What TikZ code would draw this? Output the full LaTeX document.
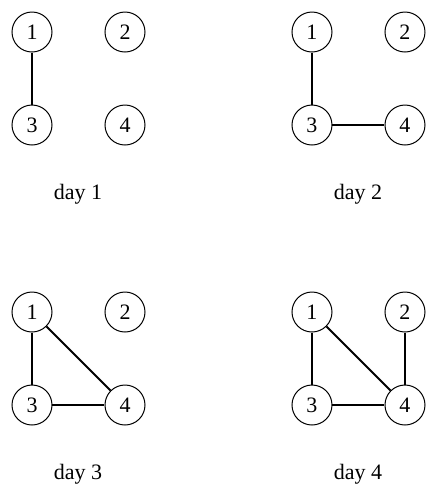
\documentclass[tikz,border=0pt]{standalone}
\usepackage{fontspec}
\setmainfont{Liberation Serif}
\begin{document}
\begin{tikzpicture}[x=0.5pt,y=-0.5pt,
    vertex/.style={draw, circle, line width=0.5pt, minimum size=20pt, inner sep=0pt, font=\fontsize{11}{13}\selectfont},
    edge/.style={line width=1pt},
    daylabel/.style={anchor=base, font=\fontsize{11}{13}\selectfont}]
    \useasboundingbox (0,0) rectangle (425,484);
    % four days, one panel each
    \foreach \d/\ox/\oy in {1/0/0, 2/280/0, 3/0/280, 4/280/280} {
        \node[vertex] (d\d n1) at (32+\ox,32+\oy) {1};
        \node[vertex] (d\d n2) at (125+\ox,32+\oy) {2};
        \node[vertex] (d\d n3) at (32+\ox,125+\oy) {3};
        \node[vertex] (d\d n4) at (125+\ox,125+\oy) {4};
        \node[daylabel] (d\d lab) at (78+\ox,199+\oy) {day \d};
    }
    \draw[edge] (d1n1) -- (d1n3);
    \draw[edge] (d2n1) -- (d2n3);
    \draw[edge] (d2n3) -- (d2n4);
    \draw[edge] (d3n1) -- (d3n3);
    \draw[edge] (d3n3) -- (d3n4);
    \draw[edge] (d3n1) -- (d3n4);
    \draw[edge] (d4n1) -- (d4n3);
    \draw[edge] (d4n3) -- (d4n4);
    \draw[edge] (d4n1) -- (d4n4);
    \draw[edge] (d4n2) -- (d4n4);
\end{tikzpicture}
\end{document}
